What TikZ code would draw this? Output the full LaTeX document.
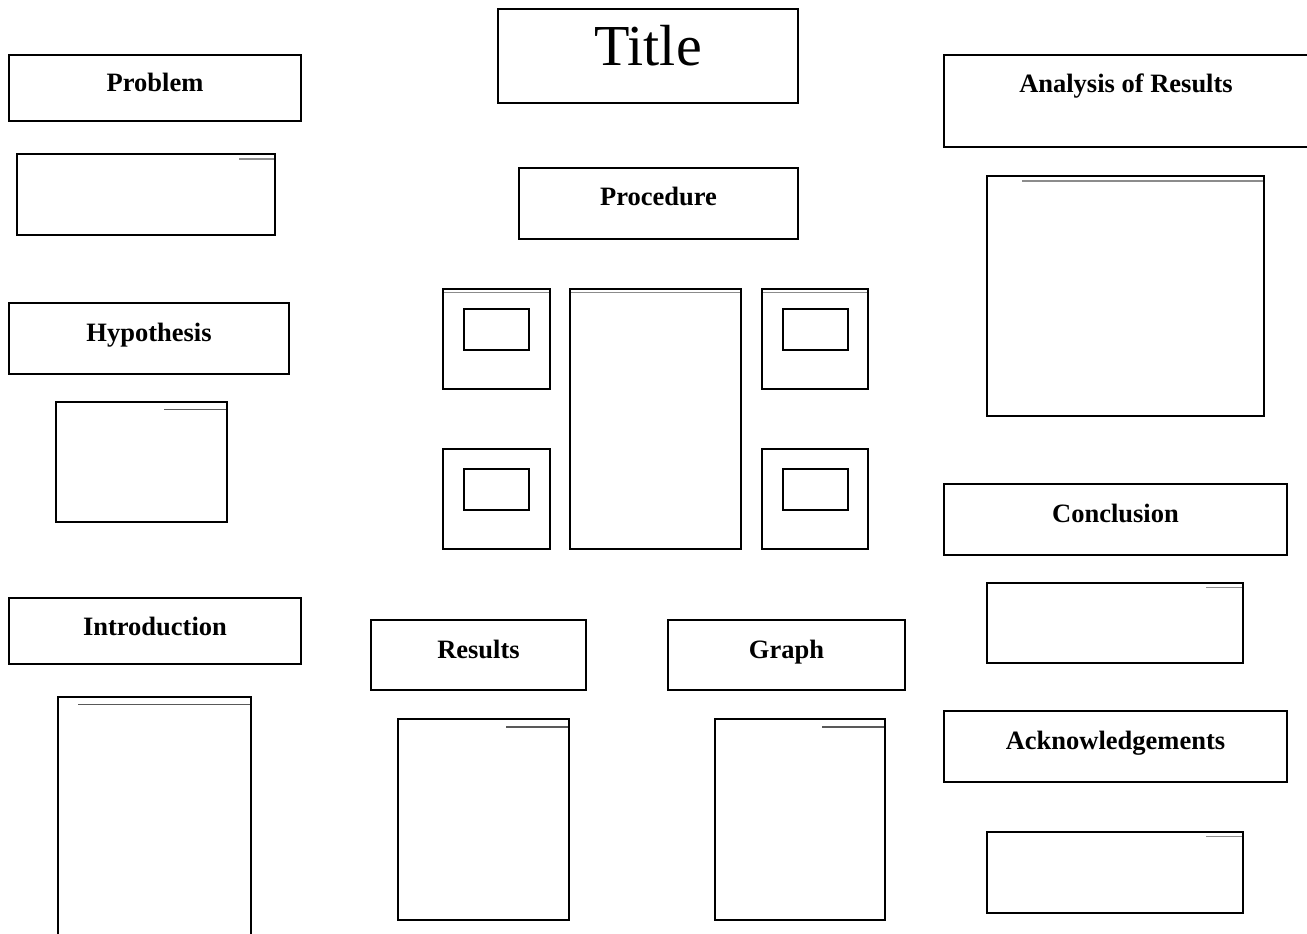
\documentclass[tikz,border=0pt]{standalone}
\usepackage{fontspec}
\setmainfont{Liberation Serif}
\begin{document}
\begin{tikzpicture}[x=1pt,y=-1pt,
  box/.style={draw=black, line width=2.8pt, inner sep=0pt, outer sep=0pt, anchor=north west, fill=white},
  hdrtext/.style={anchor=base, inner sep=0pt, font=\fontsize{26.5}{30}\selectfont\bfseries},
  glight/.style={draw=black!45, line width=1.7pt},
  gdark/.style={draw=black!65, line width=1.5pt}]
\fill[white] (0,0) rectangle (1307,934);
\path[use as bounding box] (0,0) rectangle (1307,934);
\clip (0,0) rectangle (1307,934);
% Title
\node[box, minimum width=300pt, minimum height=94pt] (title) at (498,9) {};
\node[anchor=base, inner sep=0pt, font=\fontsize{58}{62}\selectfont] (titletext) at ([yshift=-57pt]title.north) {Title};
% Left column
\node[box, minimum width=292pt, minimum height=66pt] (ph) at (9,55) {};
\node[hdrtext] (pht) at ([yshift=-36.5pt]ph.north) {Problem};
\node[box, minimum width=258pt, minimum height=81pt] (pc) at (17,154) {};
\draw[glight] ([xshift=-36pt,yshift=-5pt]pc.north east) -- ([xshift=-1.4pt,yshift=-5pt]pc.north east);
\node[box, minimum width=280pt, minimum height=71pt] (hh) at (9,303) {};
\node[hdrtext] (hht) at ([yshift=-38pt]hh.north) {Hypothesis};
\node[box, minimum width=171pt, minimum height=120pt] (hc) at (56,402) {};
\draw[gdark] ([xshift=-63pt,yshift=-7.5pt]hc.north east) -- ([xshift=-1.4pt,yshift=-7.5pt]hc.north east);
\node[box, minimum width=292pt, minimum height=66pt] (ih) at (9,598) {};
\node[hdrtext] (iht) at ([yshift=-37pt]ih.north) {Introduction};
\node[box, minimum width=193pt, minimum height=260pt] (ic) at (58,697) {};
\draw[gdark] ([xshift=-173pt,yshift=-7.5pt]ic.north east) -- ([xshift=-1.4pt,yshift=-7.5pt]ic.north east);
% Centre
\node[box, minimum width=279pt, minimum height=71pt] (prh) at (519,168) {};
\node[hdrtext] (prht) at ([yshift=-37pt]prh.north) {Procedure};
\node[box, minimum width=107pt, minimum height=100pt] (f1) at (443,289) {};
\node[box, minimum width=65pt, minimum height=41pt] (f1i) at (464,309) {};
\node[box, minimum width=171pt, minimum height=260pt] (fc) at (570,289) {};
\node[box, minimum width=106pt, minimum height=100pt] (f2) at (762,289) {};
\node[box, minimum width=65pt, minimum height=41pt] (f2i) at (783,309) {};
\node[box, minimum width=107pt, minimum height=100pt] (f3) at (443,449) {};
\node[box, minimum width=65pt, minimum height=41pt] (f3i) at (464,469) {};
\node[box, minimum width=106pt, minimum height=100pt] (f4) at (762,449) {};
\node[box, minimum width=65pt, minimum height=41pt] (f4i) at (783,469) {};
\foreach \n in {f1,fc,f2} {
  \draw[glight] ([xshift=1.4pt,yshift=-3.5pt]\n.north west) -- ([xshift=-1.4pt,yshift=-3.5pt]\n.north east);
}
\node[box, minimum width=215pt, minimum height=70pt] (rh) at (371,620) {};
\node[hdrtext] (rht) at ([yshift=-38pt]rh.north) {Results};
\node[box, minimum width=171pt, minimum height=201pt] (rc) at (398,719) {};
\draw[gdark] ([xshift=-63pt,yshift=-8pt]rc.north east) -- ([xshift=-1.4pt,yshift=-8pt]rc.north east);
\node[box, minimum width=237pt, minimum height=70pt] (gh) at (668,620) {};
\node[hdrtext] (ght) at ([yshift=-38pt]gh.north) {Graph};
\node[box, minimum width=170pt, minimum height=201pt] (gc) at (715,719) {};
\draw[gdark] ([xshift=-63pt,yshift=-8pt]gc.north east) -- ([xshift=-1.4pt,yshift=-8pt]gc.north east);
% Right column
\node[box, minimum width=368pt, minimum height=92pt] (ah) at (944,55) {};
\node[hdrtext] (aht) at (1126,92.5) {Analysis of Results};
\node[box, minimum width=277pt, minimum height=240pt] (ac) at (987,176) {};
\draw[glight] ([xshift=-242pt,yshift=-5pt]ac.north east) -- ([xshift=-1.4pt,yshift=-5pt]ac.north east);
\node[box, minimum width=343pt, minimum height=71pt] (ch) at (944,484) {};
\node[hdrtext] (cht) at ([yshift=-38pt]ch.north) {Conclusion};
\node[box, minimum width=256pt, minimum height=80pt] (cc) at (987,583) {};
\draw[glight] ([xshift=-37pt,yshift=-4.5pt]cc.north east) -- ([xshift=-1.4pt,yshift=-4.5pt]cc.north east);
\node[box, minimum width=343pt, minimum height=71pt] (kh) at (944,711) {};
\node[hdrtext] (kht) at ([yshift=-38pt]kh.north) {Acknowledgements};
\node[box, minimum width=256pt, minimum height=81pt] (kc) at (987,832) {};
\draw[glight] ([xshift=-37pt,yshift=-4.5pt]kc.north east) -- ([xshift=-1.4pt,yshift=-4.5pt]kc.north east);
\end{tikzpicture}
\end{document}
